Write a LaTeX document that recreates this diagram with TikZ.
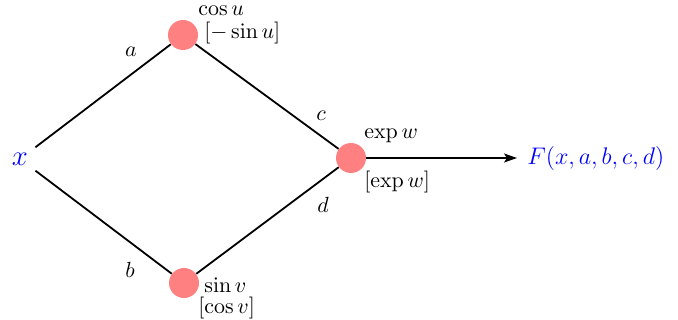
\documentclass[tikz,border=0pt]{standalone}
\usetikzlibrary{arrows.meta}
\begin{document}
\begin{tikzpicture}[x=0.5pt,y=-0.5pt,
  font=\fontsize{11}{13}\selectfont,
  opnode/.style={circle,fill=red!50,minimum size=15pt,inner sep=0pt},
  edge/.style={line width=0.9pt},
  lbl/.style={inner sep=0pt,anchor=base},
  ann/.style={inner sep=0pt,anchor=base west},
  big/.style={text=blue,font=\fontsize{13}{15}\selectfont}]
\useasboundingbox (0,0) rectangle (678,320);
\node[big,circle,minimum size=19pt,inner sep=0pt,font=\fontsize{14}{16}\selectfont] (x) at (20,159) {$x$};
\node[opnode] (u) at (183,35) {};
\node[opnode] (v) at (184,283) {};
\node[opnode] (w) at (351,158) {};
\node[big,inner sep=5pt,anchor=west] (F) at (517,158) {$F(x,a,b,c,d)$};
\draw[edge] (x) -- (u);
\draw[edge] (x) -- (v);
\draw[edge] (u) -- (w);
\draw[edge] (v) -- (w);
\draw[edge,-{Stealth[length=6.5pt,width=4.5pt,inset=1.5pt]}] (w) -- (w -| F.west);
\node[lbl] (la) at (131,57) {$a$};
\node[lbl] (lb) at (130,277) {$b$};
\node[lbl] (lc) at (321,121) {$c$};
\node[lbl] (ld) at (323,213) {$d$};
\node[ann] (tu) at (198,16) {$\cos u$};
\node[ann] (du) at (204,39) {$[-\sin u]$};
\node[ann] (tw) at (364,139) {$\exp w$};
\node[ann] (dw) at (364,187) {$[\exp w]$};
\node[ann] (tv) at (204,292) {$\sin v$};
\node[ann] (dv) at (198,313) {$[\cos v]$};
\end{tikzpicture}
\end{document}
